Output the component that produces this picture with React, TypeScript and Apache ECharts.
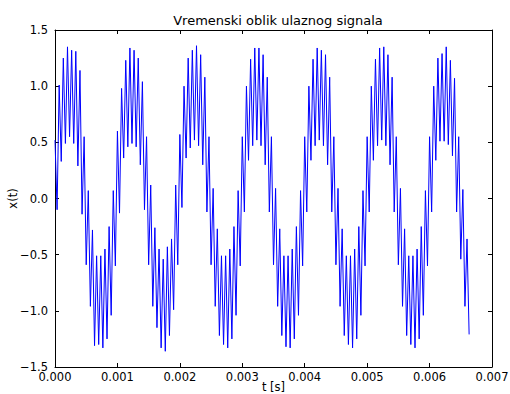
import React, { useEffect, useRef } from "react";
import * as echarts from "echarts";

const TITLE = "Vremenski oblik ulaznog signala";
const X_NAME = "t [s]";
const Y_NAME = "x(t)";
const SAMPLE_RATE = 30000; // samples per second (sample n sits at t = n / SAMPLE_RATE)

// x(t) samples, one named block per period of the 1 kHz tone
const cycle1 = [0.52, -0.10, 1.01, 0.33, 1.25, 0.49, 1.35, 0.55, 1.32, 0.49, 1.31, 0.29, 1.14, -0.14, 0.55, -0.59, 0.07, -0.96, -0.28, -1.31, -0.51, -1.30, -0.51, -1.33, -0.45, -1.25, -0.25, -1.04, 0.07, -0.60];
const cycle2 = [0.60, -0.13, 0.98, 0.36, 1.23, 0.46, 1.34, 0.49, 1.32, 0.46, 1.25, 0.30, 1.04, -0.10, 0.55, -0.59, 0.12, -0.96, -0.26, -1.15, -0.45, -1.33, -0.54, -1.36, -0.43, -1.22, -0.36, -0.99, 0.12, -0.59];
const cycle3 = [0.57, -0.08, 1.00, 0.36, 1.25, 0.45, 1.32, 0.52, 1.36, 0.47, 1.28, 0.30, 1.08, -0.12, 0.55, -0.59, 0.09, -0.96, -0.27, -1.22, -0.51, -1.30, -0.51, -1.33, -0.45, -1.25, -0.25, -1.04, 0.07, -0.60];
const cycle4 = [0.55, -0.12, 1.00, 0.34, 1.24, 0.47, 1.34, 0.52, 1.34, 0.47, 1.28, 0.30, 1.08, -0.12, 0.55, -0.59, 0.09, -0.96, -0.27, -1.22, -0.51, -1.32, -0.51, -1.33, -0.45, -1.25, -0.25, -1.04, 0.07, -0.60];
const cycle5 = [0.55, -0.12, 1.00, 0.34, 1.24, 0.47, 1.34, 0.52, 1.32, 0.47, 1.28, 0.30, 1.08, -0.12, 0.55, -0.59, 0.09, -0.96, -0.27, -1.22, -0.51, -1.30, -0.51, -1.33, -0.45, -1.25, -0.25, -1.04, 0.07, -0.60];
const cycle6 = [0.55, -0.12, 1.00, 0.34, 1.24, 0.47, 1.34, 0.52, 1.35, 0.47, 1.28, 0.30, 1.08, -0.12, 0.55, -0.59, 0.09, -0.96, -0.27, -1.22, -0.51, -1.30, -0.51, -1.33, -0.45, -1.25, -0.25, -1.04, 0.07, -0.60];
const cycle7 = [0.55, -0.12, 1.00, 0.34, 1.25, 0.51, 1.29, 0.51, 1.35, 0.48, 1.23, 0.38, 1.07, -0.12, 0.55, -0.54, 0.08, -0.96, -0.36, -1.21];

const X_MIN = 0;
const X_MAX = 0.007;
const X_STEP = 0.001;
const Y_MIN = -1.5;
const Y_MAX = 1.5;
const Y_STEP = 0.5;

const signal = [...cycle1, ...cycle2, ...cycle3, ...cycle4, ...cycle5, ...cycle6, ...cycle7];

const FONT = "DejaVu Sans";
const LABEL_SIZE = 11.5;

export default function App() {
  const ref = useRef<HTMLDivElement>(null);
  useEffect(() => {
    if (!ref.current) return;
    const chart = echarts.init(ref.current, null, { renderer: "svg" });
    const axisLine = { show: true, onZero: false, lineStyle: { color: "#000", width: 1 } };
    const tick = { show: true, inside: true, length: 4, lineStyle: { color: "#000", width: 1 } };
    const fmtY = (v: number) => (v < 0 ? "\u2212" : "") + Math.abs(v).toFixed(1);
    chart.setOption({
      animation: false,
      backgroundColor: "#fff",
      title: {
        text: TITLE,
        left: 273,
        top: 9,
        textAlign: "center",
        textStyle: { fontFamily: FONT, fontSize: 13, fontWeight: "normal", color: "#000" },
      },
      grid: { left: 55, right: 18, top: 30, bottom: 27, containLabel: false, outerBoundsMode: "none" },
      xAxis: [
        {
          type: "value",
          min: X_MIN,
          max: X_MAX,
          interval: X_STEP,
          position: "bottom",
          name: X_NAME,
          nameLocation: "middle",
          nameGap: 14,
          nameMoveOverlap: false,
          nameTextStyle: { fontFamily: FONT, fontSize: LABEL_SIZE, color: "#000" },
          axisLine,
          axisTick: tick,
          splitLine: { show: false },
          axisLabel: {
            margin: 4,
            fontFamily: FONT,
            fontSize: LABEL_SIZE,
            color: "#000",
            formatter: (v: number) => v.toFixed(3),
          },
        },
        {
          type: "value",
          min: X_MIN,
          max: X_MAX,
          interval: X_STEP,
          position: "top",
          axisLine,
          axisTick: tick,
          splitLine: { show: false },
          axisLabel: { show: false },
        },
      ],
      yAxis: [
        {
          type: "value",
          min: Y_MIN,
          max: Y_MAX,
          interval: Y_STEP,
          position: "left",
          name: Y_NAME,
          nameLocation: "middle",
          nameGap: 36,
          nameMoveOverlap: false,
          nameTextStyle: { fontFamily: FONT, fontSize: LABEL_SIZE, color: "#000" },
          axisLine,
          axisTick: tick,
          splitLine: { show: false },
          axisLabel: { margin: 7, fontFamily: FONT, fontSize: LABEL_SIZE, color: "#000", formatter: fmtY },
        },
        {
          type: "value",
          min: Y_MIN,
          max: Y_MAX,
          interval: Y_STEP,
          position: "right",
          axisLine,
          axisTick: tick,
          splitLine: { show: false },
          axisLabel: { show: false },
        },
      ],
      series: [
        {
          type: "line",
          xAxisIndex: 0,
          yAxisIndex: 0,
          showSymbol: false,
          symbol: "none",
          clip: true,
          lineStyle: { color: "#0000ff", width: 1 },
          data: signal.map((v, i) => [i / SAMPLE_RATE, v]),
        },
      ],
    });
    return () => chart.dispose();
  }, []);
  return (
    <div
      ref={ref}
      style={{ position: "fixed", left: 0, top: 0, width: 510, height: 394, background: "#fff" }}
    />
  );
}
